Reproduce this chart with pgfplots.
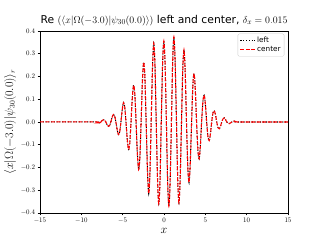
\documentclass[border=0pt]{standalone}
\usepackage{fontspec}
\setmainfont{DejaVu Sans}
\usepackage{pgfplots}
\pgfplotsset{compat=1.18}
\usepackage{pgfplotstable}

\pgfplotstableread{
x y
-15.00 0
-8.10 0
-7.95 -0.004
-7.80 -0.004
-7.64 0
-7.49 0.006
-7.34 0.010
-7.19 0.008
-7.04 0
-6.88 -0.012
-6.73 -0.019
-6.58 -0.016
-6.43 0
-6.27 0.021
-6.12 0.033
-5.97 0.027
-5.82 0
-5.66 -0.035
-5.51 -0.055
-5.36 -0.044
-5.21 0
-5.05 0.054
-4.90 0.085
-4.75 0.066
-4.60 0
-4.44 -0.078
-4.29 -0.121
-4.14 -0.093
-3.99 0
-3.83 0.107
-3.68 0.162
-3.53 0.122
-3.38 0
-3.22 -0.139
-3.07 -0.209
-2.92 -0.157
-2.77 0
-2.61 0.177
-2.46 0.263
-2.31 0.195
-2.16 0
-2.00 -0.212
-1.85 -0.315
-1.70 -0.225
-1.55 0
-1.39 0.238
-1.24 0.347
-1.09 0.247
-0.94 0
-0.78 -0.252
-0.63 -0.360
-0.48 -0.255
-0.33 0
-0.17 0.255
-0.02 0.356
0.13 0.257
0.29 0
0.44 -0.261
0.59 -0.370
0.74 -0.263
0.90 0
1.05 0.264
1.20 0.374
1.35 0.261
1.51 0
1.66 -0.253
1.81 -0.356
1.96 -0.245
2.12 0
2.27 0.231
2.42 0.317
2.57 0.216
2.72 0
2.88 -0.197
3.03 -0.266
3.18 -0.179
3.34 0
3.49 0.160
3.64 0.213
3.79 0.141
3.94 0
4.10 -0.122
4.25 -0.162
4.40 -0.105
4.55 0
4.71 0.090
4.86 0.118
5.01 0.077
5.16 0
5.32 -0.064
5.47 -0.082
5.62 -0.052
5.77 0
5.93 0.040
6.08 0.050
6.23 0.032
6.38 0
6.54 -0.025
6.69 -0.030
6.84 -0.018
6.99 0
7.15 0.014
7.30 0.018
7.45 0.010
7.60 0
7.76 -0.006
7.91 -0.007
8.06 -0.004
8.21 0
8.37 0.003
8.52 0.004
8.67 0.002
8.82 0
15.00 0
}\wave

\begin{document}
\begin{tikzpicture}
\useasboundingbox (0,0) rectangle (460.8pt,345.6pt);
\begin{axis}[
  at={(57.6pt,38.9pt)}, anchor=south west,
  scale only axis, width=357.1pt, height=262.1pt,
  xmin=-15, xmax=15, ymin=-0.4, ymax=0.4,
  xtick={-15,-10,-5,0,5,10,15},
  ytick={-0.4,-0.3,-0.2,-0.1,0,0.1,0.2,0.3,0.4},
  yticklabel style={/pgf/number format/.cd, fixed, fixed zerofill, precision=1},
  tick label style={font=\fontsize{10}{12}\selectfont},
  tick align=outside, tick pos=left,
  major tick length=3.5pt,
  axis line style={line width=0.8pt},
  every tick/.style={line width=0.8pt, black},
  title={Re $(\langle x|\Omega(-3.0)|\psi_{30}(0.0)\rangle)$ left and center, $\delta_x = 0.015$},
  title style={font=\fontsize{15.5}{18}\selectfont, yshift=-2pt},
  xlabel={$x$},
  ylabel={$\langle x|\Omega(-3.0)|\psi_{30}(0.0)\rangle_r$},
  label style={font=\fontsize{16}{19}\selectfont},
  xlabel style={yshift=-1pt},
  legend style={at={(0.985,0.985)}, anchor=north east,
    font=\fontsize{10.5}{12.5}\selectfont, draw=black!20, rounded corners=2pt,
    fill=white, fill opacity=0.8, text opacity=1, inner sep=3pt,
    row sep=0pt},
  legend cell align=left,
  legend image code/.code={\draw[#1] (0cm,0cm) -- (0.75cm,0cm);},
]
\addplot[black, line width=1.5pt, dash pattern=on 1.5pt off 2.5pt, smooth, tension=0.5] table {\wave};
\addlegendentry{left}
\addplot[red, line width=1.5pt, dash pattern=on 5.5pt off 2.4pt, smooth, tension=0.5] table {\wave};
\addlegendentry{center}
\end{axis}
\end{tikzpicture}
\end{document}
